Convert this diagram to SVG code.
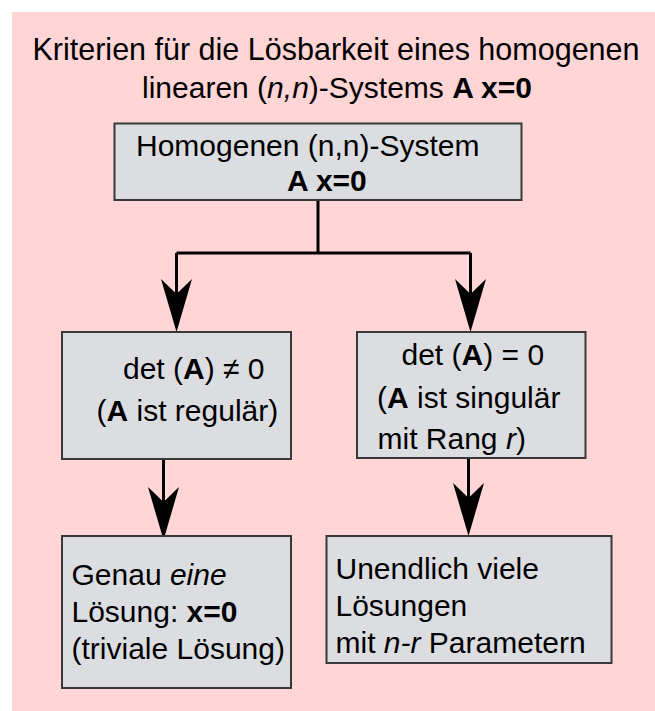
<svg xmlns="http://www.w3.org/2000/svg" width="655" height="711" viewBox="0 0 655 711">
  <defs>
    <style>
      text { font-family: "Liberation Sans", Arial, sans-serif; font-size: 30px; fill: #000; }
      .t { font-size: 30.5px; }
      .b { font-weight: bold; }
      .i { font-style: italic; }
      .box { fill: #dcdde0; stroke: #383838; stroke-width: 2; }
      .wire { fill: none; stroke: #000; stroke-width: 3; stroke-linejoin: miter; stroke-linecap: butt; }
    </style>
    <!-- barbed arrowhead: path ends at the notch, tip lies 38px further on -->
    <marker id="head" markerUnits="userSpaceOnUse" viewBox="-16 -16 55 32" markerWidth="55" markerHeight="32" refX="0" refY="0" orient="auto">
      <path d="M38,0 L-15,-15.5 L0,0 L-15,15.5 Z" fill="#000"/>
    </marker>
  </defs>

  <!-- background panel -->
  <rect x="12" y="12" width="643" height="699" fill="#ffd5d5"/>

  <g id="title">
    <text class="t" x="336" y="60" text-anchor="middle">Kriterien für die Lösbarkeit eines homogenen</text>
    <text x="337" y="98" text-anchor="middle">linearen (<tspan class="i">n,n</tspan>)-Systems <tspan class="b">A x=0</tspan></text>
  </g>

  <g id="connectors">
    <path class="wire" d="M318,200 V253"/>
    <path class="wire" d="M176.5,253 H470.5"/>
    <path class="wire" d="M176.5,253 V294" marker-end="url(#head)"/>
    <path class="wire" d="M470.5,253 V294" marker-end="url(#head)"/>
    <path class="wire" d="M163.5,459 V502" marker-end="url(#head)"/>
    <path class="wire" d="M468.5,459 V498" marker-end="url(#head)"/>
  </g>

  <g id="system">
    <rect class="box" x="114.5" y="123.5" width="407" height="76.5"/>
    <text x="136" y="156">Homogenen (n,n)-System</text>
    <text x="287" y="191" class="b">A x=0</text>
  </g>

  <g id="regular">
    <rect class="box" x="62" y="332" width="229" height="127"/>
    <text x="123" y="379">det (<tspan class="b">A</tspan>) ≠ 0</text>
    <text x="96.5" y="421">(<tspan class="b">A</tspan> ist regulär)</text>
  </g>

  <g id="singular">
    <rect class="box" x="357" y="332" width="228.5" height="126"/>
    <text x="401.5" y="365">det (<tspan class="b">A</tspan>) = 0</text>
    <text x="377" y="408">(<tspan class="b">A</tspan> ist singulär</text>
    <text x="377.5" y="449">mit Rang <tspan class="i">r</tspan>)</text>
  </g>

  <g id="unique">
    <rect class="box" x="62" y="536" width="229" height="152"/>
    <text x="71.5" y="585">Genau <tspan class="i">eine</tspan></text>
    <text x="71.5" y="622">Lösung: <tspan class="b">x=0</tspan></text>
    <text x="71.5" y="659">(triviale Lösung)</text>
  </g>

  <g id="infinite">
    <rect class="box" x="326.5" y="536" width="285" height="127"/>
    <text x="335.5" y="579">Unendlich viele</text>
    <text x="335.5" y="616">Lösungen</text>
    <text x="335.5" y="653">mit <tspan class="i">n-r</tspan> Parametern</text>
  </g>
</svg>
